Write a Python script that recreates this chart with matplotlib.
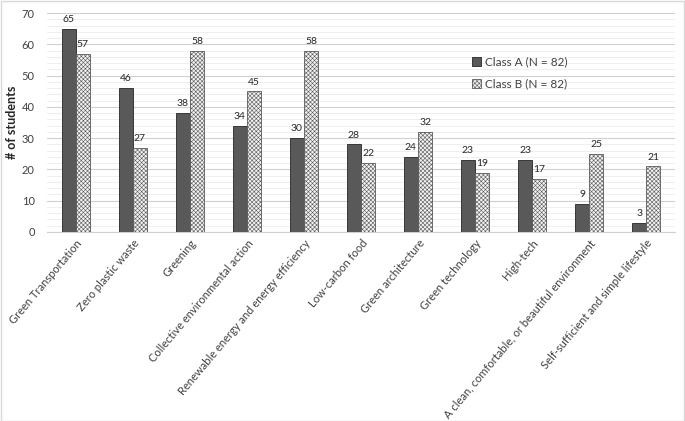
import numpy as np
import matplotlib.pyplot as plt
from matplotlib.patches import Rectangle
from matplotlib.ticker import MultipleLocator

categories = ['Green Transportation', 'Zero plastic waste', 'Greening',
              'Collective environmental action',
              'Renewable energy and energy efficiency', 'Low-carbon food',
              'Green architecture', 'Green technology', 'High-tech',
              'A clean, comfortable, or beautiful environment',
              'Self-sufficient and simple lifestyle']
class_a = [65, 46, 38, 34, 30, 28, 24, 23, 23, 9, 3]
class_b = [57, 27, 58, 45, 58, 22, 32, 19, 17, 25, 21]
series_names = ['Class A (N = 82)', 'Class B (N = 82)']


def main():
    plt.rcParams['font.family'] = ['Lato', 'DejaVu Sans']
    plt.rcParams['hatch.color'] = '#a0a0a0'
    plt.rcParams['hatch.linewidth'] = 0.4

    fig = plt.figure(figsize=(6.85, 4.21), dpi=100)
    ax = fig.add_axes([0.069, 0.449, 0.916, 0.52])

    x = np.arange(len(categories))
    w = 0.25
    bars_a = ax.bar(x - w / 2, class_a, w, color='#595959', edgecolor='#262626',
                    linewidth=0.6, label=series_names[0], zorder=3)
    bars_b = ax.bar(x + w / 2, class_b, w, color='#f2f2f2', edgecolor='#595959',
                    linewidth=0.6, hatch='xxxxxxxx', label=series_names[1], zorder=3)

    for bars in (bars_a, bars_b):
        for b in bars:
            h = b.get_height()
            ax.text(b.get_x() + b.get_width() / 2, h + 1.5, '%d' % h,
                    ha='center', va='bottom', fontsize=7.5, color='#262626')

    ax.set_xlim(-0.5, len(categories) - 0.5)
    ax.set_ylim(0, 70)
    ax.yaxis.set_major_locator(MultipleLocator(10))
    ax.yaxis.set_minor_locator(MultipleLocator(2))
    ax.grid(which='major', axis='y', color='#d0d0d0', linewidth=0.8, zorder=0)
    ax.grid(which='minor', axis='y', color='#ececec', linewidth=0.6, zorder=0)
    for s in ('top', 'right', 'left'):
        ax.spines[s].set_visible(False)
    ax.spines['bottom'].set_color('#d0d0d0')
    ax.tick_params(axis='y', which='both', length=0, labelsize=8, labelcolor='#404040', pad=9)
    ax.tick_params(axis='x', length=0, labelsize=8, labelcolor='#404040', pad=4)
    ax.set_xticks(x)
    ax.set_xticklabels(categories, rotation=50, ha='right', rotation_mode='anchor')
    ax.set_ylabel('# of students', fontsize=9, fontweight='bold', color='#262626', labelpad=3)

    ax.legend(loc='upper left', bbox_to_anchor=(0.66, 0.85), frameon=False,
              fontsize=8.5, handlelength=0.8, handleheight=0.8, handletextpad=0.3,
              labelspacing=0.9, labelcolor='#404040')

    fig.patches.append(Rectangle((0.001, 0.001), 0.997, 0.997, transform=fig.transFigure,
                                 fill=False, edgecolor='#d9d9d9', linewidth=1))

    fig.savefig('out.png', dpi=100)


if __name__ == '__main__':
    main()
